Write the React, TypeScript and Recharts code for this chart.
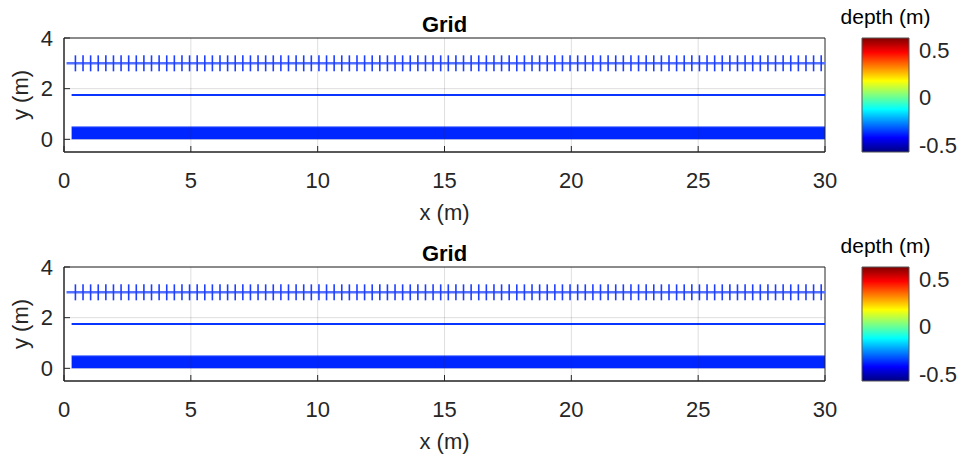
import React from 'react';
import { ComposedChart, Line, Area, Scatter, XAxis, YAxis, CartesianGrid, ReferenceArea, ReferenceLine, Label } from 'recharts';

const xTicks = [0, 5, 10, 15, 20, 25, 30];
const yTicks = [0, 2, 4];
const xRange = [0, 30];
const yRange = [-0.5, 4];
const depthTicks = [-0.5, 0, 0.5];
const depthMin = -0.575;
const depthMax = 0.625;

// gauge stations along the flume (m)
const gaugeX = [
  0.45, 0.75, 1.05, 1.35, 1.65, 1.95, 2.25, 2.55, 2.85, 3.15,
  3.45, 3.75, 4.05, 4.35, 4.65, 4.95, 5.25, 5.55, 5.85, 6.15,
  6.45, 6.75, 7.05, 7.35, 7.65, 7.95, 8.25, 8.55, 8.85, 9.15,
  9.45, 9.75, 10.05, 10.35, 10.65, 10.95, 11.25, 11.55, 11.85, 12.15,
  12.45, 12.75, 13.05, 13.35, 13.65, 13.95, 14.25, 14.55, 14.85, 15.15,
  15.45, 15.75, 16.05, 16.35, 16.65, 16.95, 17.25, 17.55, 17.85, 18.15,
  18.45, 18.75, 19.05, 19.35, 19.65, 19.95, 20.25, 20.55, 20.85, 21.15,
  21.45, 21.75, 22.05, 22.35, 22.65, 22.95, 23.25, 23.55, 23.85, 24.15,
  24.45, 24.75, 25.05, 25.35, 25.65, 25.95, 26.25, 26.55, 26.85, 27.15,
  27.45, 27.75, 28.05, 28.35, 28.65, 28.95, 29.25, 29.55, 29.85,
];
const gaugeLevel = 3;
const railX = [0.1, 30.1];
const waterX = [0.3, 30];
const waterLevel = 1.75;
const bedX = [0.3, 30];
const bedTop = 0.5;
const bedDepth = -0.38;

const gaugeData = gaugeX.map((x) => ({ x, y: gaugeLevel }));
const railData = railX.map((x) => ({ x, y: gaugeLevel }));
const waterData = waterX.map((x) => ({ x, y: waterLevel }));
const bedData = bedX.map((x) => ({ x, y: bedTop }));
const colorbarData = [{ x: 0, y: depthMax }, { x: 1, y: depthMax }];

const ink = '#262626';
const gridInk = 'rgba(38,38,38,0.15)';
const font = '"Liberation Sans", Arial, Helvetica, sans-serif';

// matlab-style jet colormap, v in [0, 1]
function jet(v: number) {
  const c = (t: number) => Math.round(255 * Math.max(0, Math.min(1, t)));
  const r = c(Math.min(4 * v - 1.5, -4 * v + 4.5));
  const g = c(Math.min(4 * v - 0.5, -4 * v + 3.5));
  const b = c(Math.min(4 * v + 0.5, -4 * v + 2.5));
  return `rgb(${r},${g},${b})`;
}
const depthColor = (d: number) => jet((d - depthMin) / (depthMax - depthMin));
const jetStops = [0, 0.125, 0.375, 0.625, 0.875, 1];

const GaugeTick = (props: any) => (
  <line x1={props.cx} x2={props.cx} y1={props.cy - 8} y2={props.cy + 8} stroke="#1f3fff" strokeWidth={1.6} />
);

function Panel({ top, id }: { top: number; id: string }) {
  const tickStyle = { fontSize: 22, fill: ink, fontFamily: font };
  return (
    <>
      <div style={{ position: 'absolute', left: 0, top, width: 840, height: 229 }}>
        <ComposedChart width={840} height={229} margin={{ top: 38, right: 15, bottom: 17, left: 10 }}>
          <XAxis dataKey="x" type="number" domain={xRange} ticks={xTicks} allowDataOverflow
            height={60} tickSize={-6} tickMargin={26} tick={tickStyle}
            axisLine={{ stroke: ink }} tickLine={{ stroke: ink }}>
            <Label value="x (m)" position="insideBottom" offset={-8} fontSize={22} fill={ink} fontFamily={font} />
          </XAxis>
          <YAxis dataKey="y" type="number" domain={yRange} ticks={yTicks} allowDataOverflow
            width={54} tickSize={-6} tickMargin={17} tick={tickStyle}
            axisLine={{ stroke: ink }} tickLine={{ stroke: ink }}>
            <Label value="y (m)" angle={-90} position="insideLeft" offset={10} fontSize={22} fill={ink}
              fontFamily={font} style={{ textAnchor: 'middle' }} />
          </YAxis>
          <CartesianGrid stroke="#dedede" vertical={false} />
          <Area data={bedData} dataKey="y" type="linear" baseValue={0} fill={depthColor(bedDepth)} fillOpacity={1}
            stroke="#7088ff" strokeWidth={1} isAnimationActive={false} />
          <Line data={waterData} dataKey="y" type="linear" stroke="#0a34ff" strokeWidth={2} dot={false} isAnimationActive={false} />
          <Line data={railData} dataKey="y" type="linear" stroke="#5472ff" strokeWidth={2.5} dot={false} isAnimationActive={false} />
          <Scatter data={gaugeData} dataKey="y" shape={GaugeTick} isAnimationActive={false} />
          {/* vertical grid drawn over the patches */}
          {xTicks.slice(1, -1).map((x) => (
            <ReferenceLine key={x} x={x} stroke={gridInk} strokeWidth={1} />
          ))}
          {/* axes box */}
          <ReferenceArea x1={xRange[0]} x2={xRange[1]} y1={yRange[0]} y2={yRange[1]} fill="none" fillOpacity={0}
            stroke={ink} strokeWidth={1} ifOverflow="visible">
            <Label value="Grid" position="top" offset={6} fontSize={22} fontWeight="bold" fill="#000" fontFamily={font} />
          </ReferenceArea>
        </ComposedChart>
      </div>
      <div style={{ position: 'absolute', left: 840, top, width: 117, height: 229 }}>
        <ComposedChart width={117} height={229} data={colorbarData} margin={{ top: 38, right: 8, bottom: 77, left: 22 }}>
          <defs>
            <linearGradient id={`jet-${id}`} x1="0" y1="0" x2="0" y2="1">
              {jetStops.map((s) => (
                <stop key={s} offset={s} stopColor={jet(1 - s)} />
              ))}
            </linearGradient>
          </defs>
          <XAxis dataKey="x" type="number" domain={[0, 1]} hide />
          <YAxis dataKey="y" orientation="right" type="number" domain={[depthMin, depthMax]} ticks={depthTicks} allowDataOverflow
            width={40} tickSize={0} tickMargin={10} axisLine={false} tickLine={false} tick={tickStyle} />
          <Area dataKey="y" type="linear" baseValue={depthMin} fill={`url(#jet-${id})`} fillOpacity={1}
            stroke="none" isAnimationActive={false} />
          <ReferenceArea x1={0} x2={1} y1={depthMin} y2={depthMax} fill="none" fillOpacity={0}
            stroke="#555" strokeWidth={1} ifOverflow="visible">
            <Label value="depth (m)" position="top" offset={14} fontSize={21} fill="#000" fontFamily={font} />
          </ReferenceArea>
        </ComposedChart>
      </div>
    </>
  );
}

export default function App() {
  return (
    <div style={{ position: 'absolute', left: 0, top: 0, width: 957, height: 454, background: '#fff', fontFamily: font }}>
      <Panel top={0} id="a" />
      <Panel top={229} id="b" />
    </div>
  );
}
